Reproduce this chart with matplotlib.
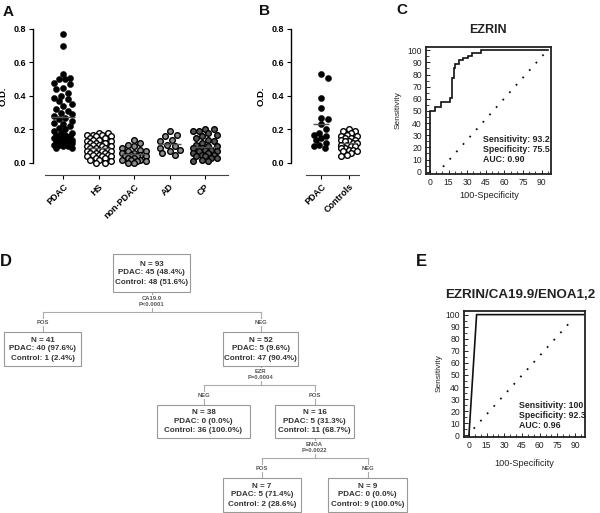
import numpy as np
import matplotlib
matplotlib.use('Agg')
import matplotlib.pyplot as plt
from matplotlib.patches import Rectangle
from matplotlib.ticker import MultipleLocator

plt.rcParams['font.family'] = ['Liberation Sans', 'DejaVu Sans']

# ---- data ----
a_groups = ['PDAC', 'HS', 'non-PDAC', 'AD', 'CP']
a_pdac = [0.77, 0.70, 0.53, 0.51, 0.50, 0.50, 0.48, 0.47, 0.45, 0.44, 0.42, 0.40, 0.39,
          0.38, 0.37, 0.35, 0.34, 0.32, 0.31, 0.30, 0.29, 0.28, 0.27, 0.26, 0.25, 0.24,
          0.23, 0.22, 0.21, 0.20, 0.19, 0.18, 0.18, 0.17, 0.17, 0.16, 0.16, 0.15, 0.15,
          0.15, 0.14, 0.14, 0.13, 0.13, 0.13, 0.12, 0.12, 0.11, 0.11, 0.10, 0.10, 0.09, 0.09]
a_hs = [0.18, 0.18, 0.17, 0.17, 0.17, 0.16, 0.16, 0.15, 0.15, 0.14, 0.14, 0.13, 0.13,
        0.12, 0.12, 0.12, 0.11, 0.11, 0.10, 0.10, 0.10, 0.09, 0.09, 0.09, 0.08, 0.08,
        0.08, 0.07, 0.07, 0.07, 0.06, 0.06, 0.06, 0.05, 0.05, 0.05, 0.04, 0.04, 0.04,
        0.03, 0.03, 0.02, 0.02, 0.01, 0.0, 0.0]
a_nonpdac = [0.14, 0.12, 0.11, 0.10, 0.09, 0.08, 0.07, 0.07, 0.06, 0.06, 0.05, 0.05,
             0.04, 0.04, 0.04, 0.03, 0.03, 0.02, 0.02, 0.02, 0.01, 0.01, 0.0, 0.0]
a_ad = [0.19, 0.17, 0.16, 0.14, 0.13, 0.11, 0.10, 0.09, 0.08, 0.07, 0.06, 0.05]
a_cp = [0.20, 0.20, 0.19, 0.19, 0.18, 0.17, 0.16, 0.15, 0.14, 0.13, 0.12, 0.11, 0.10,
        0.10, 0.09, 0.09, 0.08, 0.08, 0.07, 0.07, 0.06, 0.06, 0.05, 0.05, 0.04, 0.04,
        0.03, 0.03, 0.02, 0.01, 0.01]
a_colors = ['black', 'white', '#8c8c8c', '#8c8c8c', '#555555']

b_groups = ['PDAC', 'Controls']
b_pdac = [0.53, 0.51, 0.39, 0.33, 0.27, 0.26, 0.23, 0.20, 0.18, 0.17, 0.16, 0.15, 0.14,
          0.12, 0.11, 0.10, 0.09]
b_controls = [0.20, 0.19, 0.19, 0.18, 0.17, 0.16, 0.16, 0.15, 0.15, 0.14, 0.14, 0.13,
              0.13, 0.12, 0.12, 0.11, 0.11, 0.10, 0.10, 0.09, 0.09, 0.08, 0.08, 0.07,
              0.07, 0.06, 0.05, 0.04]
b_colors = ['black', 'white']

# ROC curves (100-specificity, sensitivity)
c_fpr = [0, 0, 4, 8.5, 16.5, 17.5, 19, 20.5, 23.5, 27, 31, 34, 41.5, 95]
c_tpr = [0, 50, 53, 57, 61, 77, 85, 88.5, 92, 94, 95.5, 97.5, 100, 100]
c_diag_x = [10.5, 92]
c_diag_y = [4, 97]
c_stats = ['Sensitivity: 93.2', 'Specificity: 75.5', 'AUC: 0.90']

e_fpr = [0, 6.5, 97.5]
e_tpr = [0, 100, 100]
e_diag_x = [4, 88.6]
e_diag_y = [5.5, 96.7]
e_stats = ['Sensitivity: 100', 'Specificity: 92.3', 'AUC: 0.96']

tree_nodes = [
    ('N = 93', 'PDAC: 45 (48.4%)', 'Control: 48 (51.6%)'),
    ('N = 41', 'PDAC: 40 (97.6%)', 'Control: 1 (2.4%)'),
    ('N = 52', 'PDAC: 5 (9.6%)', 'Control: 47 (90.4%)'),
    ('N = 38', 'PDAC: 0 (0.0%)', 'Control: 36 (100.0%)'),
    ('N = 16', 'PDAC: 5 (31.3%)', 'Control: 11 (68.7%)'),
    ('N = 7', 'PDAC: 5 (71.4%)', 'Control: 2 (28.6%)'),
    ('N = 9', 'PDAC: 0 (0.0%)', 'Control: 9 (100.0%)'),
]
split_marker = ['CA19.9', 'EZR', 'ENOA']
split_p = ['P<0.0001', 'P=0.0004', 'P=0.0022']
split_branch = [('POS', 'NEG'), ('NEG', 'POS'), ('POS', 'NEG')]
split_parent = [0, 2, 4]
split_children = [(1, 2), (3, 4), (5, 6)]

# ---- layout (pixels) ----
W, H = 600, 513
fig = plt.figure(figsize=(6, 5.13), dpi=100)


def px_axes(l, t, r, b):
    return fig.add_axes([l / W, 1 - b / H, (r - l) / W, (b - t) / H])


ax0 = px_axes(0, 0, W, H)
ax0.set_xlim(0, W)
ax0.set_ylim(H, 0)
ax0.axis('off')
ax0.set_zorder(10)
ax0.patch.set_alpha(0)

YPX = 134 / 0.8  # pixels per O.D. unit


def swarm(vals, d, half):
    # bounded beeswarm: points may overlap once the column is full
    cands = np.linspace(-half, half, 9)
    cands = cands[np.argsort(np.abs(cands), kind='stable')]
    placed, out = [], []
    for n, v in enumerate(vals):
        y = v * YPX
        best, best_md = None, -1
        order = cands if n % 2 == 0 else -cands
        for x in order:
            md = min([np.hypot(x - a, y - b) for a, b in placed] or [99])
            if md >= 0.95 * d:
                best = x
                break
            if md > best_md:
                best, best_md = x, md
        placed.append((best, y))
        out.append(best)
    return np.array(out)


def dot_panel(ax, names, series, colors, halves, pxcat, halfw, xlim, xbounds):
    ax.set_xlim(*xlim)
    ax.set_ylim(0, 0.8)
    for i, (vals, fc, hw) in enumerate(zip(series, colors, halves)):
        d = 7.0 if fc == 'black' else 6.4
        offs = swarm(vals, d, hw) / pxcat
        ax.scatter(i + offs, vals, s=(d / 1.389) ** 2 * 0.78, facecolor=fc,
                   edgecolor='black', linewidth=1.0 if fc != 'black' else 0.3,
                   clip_on=False, zorder=3)
        ax.hlines(np.mean(vals), i - halfw, i + halfw, color='#555555', lw=1.0, zorder=4)
    for s in ['top', 'right']:
        ax.spines[s].set_visible(False)
    ax.spines['left'].set_bounds(0, 0.8)
    ax.spines['bottom'].set_position(('outward', 8.6))
    ax.spines['bottom'].set_bounds(*xbounds)
    ax.spines['bottom'].set_color('#444444')
    ax.spines['left'].set_linewidth(1.0)
    ax.set_yticks([0.0, 0.2, 0.4, 0.6, 0.8])
    ax.set_yticklabels(['0.0', '0.2', '0.4', '0.6', '0.8'], fontweight='bold', fontsize=6.5)
    ax.set_xticks(range(len(names)))
    ax.set_xticklabels(names, rotation=45, ha='right', va='top', rotation_mode='anchor',
                       fontweight='bold', fontsize=6.5)
    ax.tick_params(axis='both', length=3, width=0.8, pad=2)
    ax.patch.set_alpha(0)


# Panel A
axA = px_axes(33, 29, 228, 163)
dot_panel(axA, a_groups, [a_pdac, a_hs, a_nonpdac, a_ad, a_cp], a_colors,
          [9, 12, 12, 10, 12], 35.5, 0.33,
          (-30 / 35.5, 165 / 35.5), (-0.5, 165 / 35.5))
axA.set_ylabel('O.D.', fontweight='bold', fontsize=6.8, labelpad=4)

# Panel B
axB = px_axes(291, 29, 360, 163)
dot_panel(axB, b_groups, [b_pdac, b_controls], b_colors, [7, 8], 28, 0.3,
          (-30 / 28, 39 / 28), (-0.55, 1.35))
axB.set_ylabel('O.D.', fontweight='bold', fontsize=6.8, labelpad=4)


def roc_panel(box, xlim, ylim, fpr, tpr, dx, dy):
    ax = px_axes(*box)
    ax.set_xlim(*xlim)
    ax.set_ylim(*ylim)
    ax.plot(fpr, tpr, color='#111111', lw=1.2, drawstyle='steps-post' if len(fpr) > 3 else 'default',
            solid_joinstyle='miter')
    ax.plot(dx, dy, color='#111111', lw=1.3, linestyle=(0, (1, 4.5)))
    for s in ax.spines.values():
        s.set_linewidth(1.3)
        s.set_color('#222222')
    ax.xaxis.set_major_locator(MultipleLocator(15))
    ax.xaxis.set_minor_locator(MultipleLocator(5))
    ax.yaxis.set_major_locator(MultipleLocator(10))
    ax.yaxis.set_minor_locator(MultipleLocator(5))
    ax.tick_params(which='major', direction='in', length=3, width=0.7, labelsize=6.2,
                   pad=3, colors='#222222')
    ax.tick_params(which='minor', direction='in', length=2, width=0.6, colors='#222222')
    return ax


axC = roc_panel((426, 47, 551, 174), (-3.2, 97.5), (-1.9, 102.7), c_fpr, c_tpr,
                c_diag_x, c_diag_y)
axE = roc_panel((464, 311, 585, 437), (-4.2, 98.5), (-1.4, 103), e_fpr, e_tpr,
                e_diag_x, e_diag_y)

# ROC text
ax0.text(488, 30, 'EZRIN', ha='center', va='center', fontsize=9, fontweight='bold', color='#222')
ax0.text(489, 195, '100-Specificity', ha='center', va='center', fontsize=6.6, color='#222')
ax0.text(398, 110, 'Sensitivity', ha='center', va='center', fontsize=6.0, rotation=90, color='#222')
for i, s in enumerate(c_stats):
    ax0.text(483, 140 + 10 * i, s, ha='left', va='center', fontsize=6.3, fontweight='bold',
             color='#222')

ax0.text(520, 295, 'EZRIN/CA19.9/ENOA1,2', ha='center', va='center', fontsize=9.6,
         fontweight='bold', color='#222')
ax0.text(524, 463, '100-Specificity', ha='center', va='center', fontsize=6.6, color='#222')
ax0.text(439, 373, 'Sensitivity', ha='center', va='center', fontsize=6.0, rotation=90, color='#222')
for i, s in enumerate(e_stats):
    ax0.text(519, 406 + 9.5 * i, s, ha='left', va='center', fontsize=6.3, fontweight='bold',
             color='#222')

# Panel D: decision tree
node_box = [(113, 254, 190, 292), (4, 332, 81, 366), (223, 332, 298, 366),
            (157, 405, 250, 438), (275, 405, 354, 438), (223, 478, 301, 512),
            (328, 478, 407, 512)]
line_col = '#aaaaaa'
for (l, t, r, b), lines in zip(node_box, tree_nodes):
    ax0.add_patch(Rectangle((l, t), r - l, b - t, facecolor='white', edgecolor='#999999',
                            lw=0.8, zorder=2))
    cy = (t + b) / 2
    for j, s in enumerate(lines):
        ax0.text((l + r) / 2, cy + (j - 1) * 9, s, ha='center', va='center', fontsize=5.8,
                 fontweight='bold', color='#333333', zorder=3)

small = dict(ha='center', va='center', fontsize=4.2, fontweight='bold', color='#555555',
             zorder=3, bbox=dict(facecolor='white', edgecolor='none', pad=0.4))
for k in range(3):
    pl, pt, pr, pb = node_box[split_parent[k]]
    px = (pl + pr) / 2
    c1, c2 = split_children[k]
    x1 = (node_box[c1][0] + node_box[c1][2]) / 2
    x2 = (node_box[c2][0] + node_box[c2][2]) / 2
    ctop = node_box[c1][1]
    hy = ctop - 20
    ax0.plot([px, px], [pb, hy], color=line_col, lw=0.8, zorder=1)
    ax0.plot([x1, x2], [hy, hy], color=line_col, lw=0.8, zorder=1)
    for xc in (x1, x2):
        ax0.plot([xc, xc], [hy, ctop], color=line_col, lw=0.8, zorder=1)
    ax0.text(px, hy - 13.5, split_marker[k], **small)
    ax0.text(px, hy - 7.5, split_p[k], **small)
    ax0.text(x1, hy + 10.5, split_branch[k][0], **small)
    ax0.text(x2, hy + 10.5, split_branch[k][1], **small)

# panel letters
for lab, x, y, fs in [('A', 3, 5, 11), ('B', 259, 4, 11), ('C', 396, 3, 11),
                      ('D', 0, 254, 12), ('E', 416, 254, 12)]:
    ax0.text(x, y, lab, ha='left', va='top', fontsize=fs, fontweight='bold', color='#111')

fig.savefig('out.png', dpi=100)
